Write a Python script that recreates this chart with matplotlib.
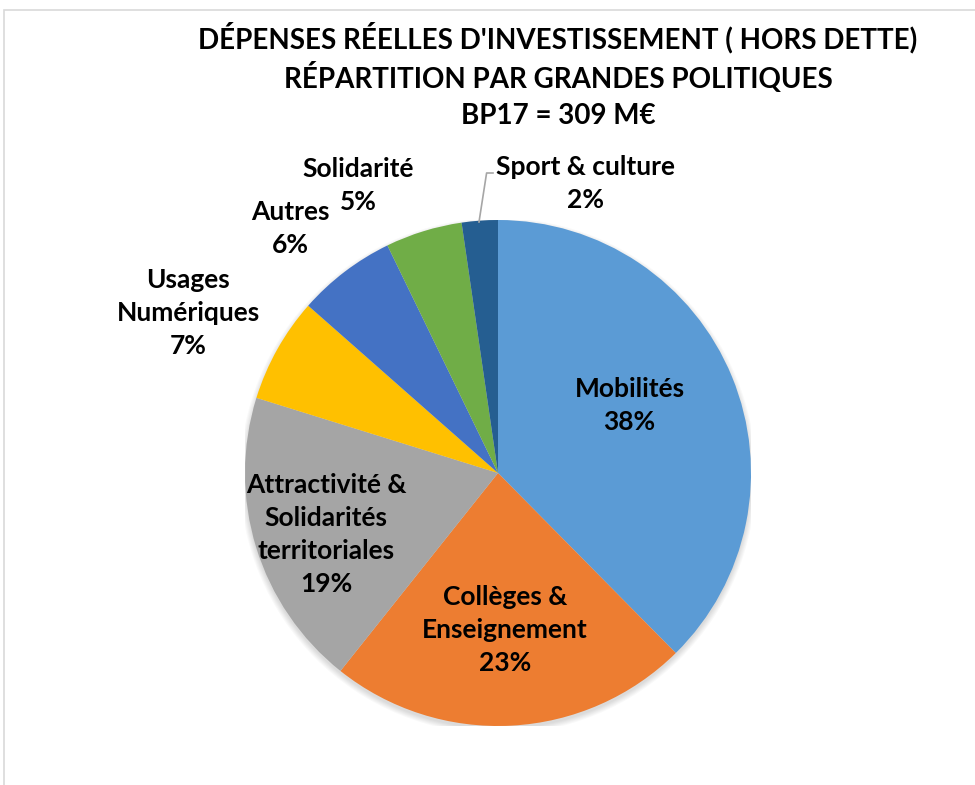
import matplotlib
matplotlib.use("Agg")
import matplotlib.pyplot as plt
from matplotlib.patches import Circle, Rectangle

categories = ["Mobilités", "Collèges &\nEnseignement", "Attractivité &\nSolidarités\nterritoriales",
              "Usages\nNumériques", "Autres", "Solidarité", "Sport & culture"]
values = [37.6, 23.1, 19.1, 6.7, 6.3, 4.9, 2.3]
colors = ["#5B9BD5", "#ED7D31", "#A5A5A5", "#FFC000", "#4472C4", "#70AD47", "#255E91"]
title_lines = ["DÉPENSES RÉELLES D'INVESTISSEMENT ( HORS DETTE)",
               "RÉPARTITION PAR GRANDES POLITIQUES",
               "BP17 = 309 M€"]

label_font = ["Lato", "DejaVu Sans"]
title_font = ["Lato", "DejaVu Sans"]

W, H = 975, 785
fig = plt.figure(figsize=(W / 100, H / 100), dpi=100)
fig.patch.set_facecolor("white")

# frame
fig.add_artist(Rectangle((4 / W, -0.1), 1.2, 1.1 - 10 / H, transform=fig.transFigure,
                         fill=False, edgecolor="#D9D9D9", linewidth=1.2))

cx, cy, R = 498, 473, 253
ax = fig.add_axes([(cx - R) / W, (H - cy - R) / H, 2 * R / W, 2 * R / H])
ax.set_aspect("equal")
ax.axis("off")

# soft shadow
for k in range(6):
    ax.add_patch(Circle((0.0, -0.012), 1.0 + k * 0.004, color="black", alpha=0.025, zorder=0, lw=0))

wedges, _ = ax.pie(values, colors=colors, startangle=90, counterclock=False, radius=1,
                   wedgeprops=dict(linewidth=0))
ax.set_xlim(-1, 1)
ax.set_ylim(-1, 1)

label_pos = [(0.52, 0.268), (0.028, -0.62), (-0.68, -0.245), (-1.225, 0.632),
             (-0.822, 0.968), (-0.553, 1.138), (0.344, 1.146)]
for cat, v, (x, y) in zip(categories, values, label_pos):
    ax.text(x, y, f"{cat}\n{round(v)}%", ha="center", va="center", fontsize=19,
            fontweight="bold", family=label_font, linespacing=1.45, color="black", clip_on=False)

# leader line for Sport & culture
ax.plot([(479 - cx) / R, (479 - cx) / R + 0.03, (493 - cx) / R],
        [(cy - 222) / R, (cy - 173) / R, (cy - 173) / R], color="#A6A6A6", lw=1.2, clip_on=False)

for t, yp in zip(title_lines, [38, 77, 116]):
    fig.text(558 / W, 1 - yp / H, t, ha="center", va="center", fontsize=20, fontweight="bold",
             family=title_font, color="black")

fig.savefig("out.png", dpi=100, facecolor="white")
